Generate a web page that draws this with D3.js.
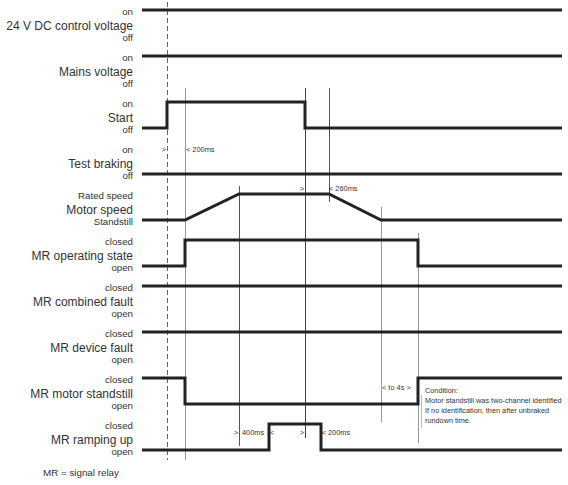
<!DOCTYPE html>
<html><head><meta charset="utf-8">
<script src="https://cdn.jsdelivr.net/npm/d3@7"></script>
<style>
body{margin:0;background:#fff;}
text{font-family:"Liberation Sans Narrow","Liberation Sans",Arial,sans-serif;fill:#333;}
</style></head>
<body><svg id="c" width="568" height="485"></svg>
<script>
// ---- data ----
const rowTitles = ["24 V DC control voltage","Mains voltage","Start","Test braking","Motor speed",
  "MR operating state","MR combined fault","MR device fault","MR motor standstill","MR ramping up"];
const topLabels = ["on","on","on","on","Rated speed","closed","closed","closed","closed","closed"];
const bottomLabels = ["off","off","off","off","Standstill","open","open","open","open","open"];
// time events (arbitrary time units)
const tEnd = 2100;
const sig24V = [[0,1],[tEnd,1]];
const sigMains = [[0,1],[tEnd,1]];
const sigStart = [[0,0],[125,0],[125,1],[815,1],[815,0],[tEnd,0]];
const sigTestBraking = [[0,0],[tEnd,0]];
const sigMotorSpeed = [[0,0],[215,0],[485,1],[935,1],[1195,0],[tEnd,0]];
const sigOperating = [[0,0],[215,0],[215,1],[1380,1],[1380,0],[tEnd,0]];
const sigCombinedFault = [[0,1],[tEnd,1]];
const sigDeviceFault = [[0,1],[tEnd,1]];
const sigStandstill = [[0,1],[215,1],[215,0],[1380,0],[1380,1],[tEnd,1]];
const sigRampingUp = [[0,0],[635,0],[635,1],[895,1],[895,0],[tEnd,0]];
const signals = [sig24V,sigMains,sigStart,sigTestBraking,sigMotorSpeed,sigOperating,
  sigCombinedFault,sigDeviceFault,sigStandstill,sigRampingUp];
const markerTimes = [125,215,485,815,935,1195,1380];
const annotations = [
  {t:125, text:">", anchor:"end", row:3, dx:-1},
  {t:215, text:"< 200ms", anchor:"start", row:3, dx:1},
  {t:815, text:">", anchor:"end", row:4, dx:-1},
  {t:935, text:"< 260ms", anchor:"start", row:4, dx:0},
  {t:1195, text:"< to 4s >", anchor:"start", row:8, dx:1},
  {t:485, text:">", anchor:"end", row:9, dx:-1},
  {t:485, text:"400ms", anchor:"start", row:9, dx:3},
  {t:635, text:"<", anchor:"start", row:9, dx:1},
  {t:815, text:">", anchor:"end", row:9, dx:-1},
  {t:895, text:"<", anchor:"start", row:9, dx:1},
  {t:895, text:"200ms", anchor:"start", row:9, dx:7}
];
const conditionLines = ["Condition:","Motor standstill was two-channel identified",
  "If no identification, then after unbraked","rundown time."];

// ---- scales ----
const svg = d3.select("#c");
const x = d3.scaleLinear().domain([0,tEnd]).range([142,562]);
const rowY = d3.scaleLinear().domain([0,9]).range([10,424]); // high level y
const amp = 26;
const yOf = (r,lv)=> rowY(r) + (1-lv)*amp;
const annOff = {3:4, 4:-3.5, 8:11.5, 9:11};

// ---- marker lines ----
const markers = [
  {t:markerTimes[0], y1:2, y2:460, c:"#666", dash:"5,3"},
  {t:markerTimes[1], y1:rowY(2)-14, y2:460, c:"#999"},
  {t:markerTimes[2], y1:rowY(4)-8, y2:446, c:"#555"},
  {t:markerTimes[3], y1:rowY(2)-14, y2:438, c:"#444"},
  {t:markerTimes[4], y1:rowY(2)-14, y2:202, c:"#555"},
  {t:markerTimes[5], y1:rowY(4)+13, y2:422, c:"#999"},
  {t:markerTimes[6], y1:rowY(5)-7, y2:443, c:"#999"}
];
svg.append("g").selectAll("line").data(markers).join("line")
  .attr("x1",d=>Math.round(x(d.t))+0.5).attr("x2",d=>Math.round(x(d.t))+0.5)
  .attr("y1",d=>d.y1).attr("y2",d=>d.y2)
  .attr("stroke",d=>d.c).attr("stroke-width",1)
  .attr("stroke-dasharray",d=>d.dash||null);

// ---- signals ----
const line = d3.line();
svg.append("g").selectAll("path").data(signals).join("path")
  .attr("d",(s,i)=>line(s.map(p=>[x(p[0]), yOf(i,p[1])])))
  .attr("fill","none").attr("stroke","#222").attr("stroke-width",3)
  .attr("stroke-linejoin","miter").attr("stroke-linecap","butt");

// ---- labels ----
const lx = 133;
const lab = svg.append("g").attr("text-anchor","end");
rowTitles.forEach((t,i)=>{
  lab.append("text").attr("x",lx).attr("y",rowY(i)+19.5).attr("font-size",12).text(t);
  lab.append("text").attr("x",lx).attr("y",rowY(i)+5).attr("font-size",9.7).text(topLabels[i]);
  lab.append("text").attr("x",lx).attr("y",rowY(i)+31).attr("font-size",9.7).text(bottomLabels[i]);
});

// ---- annotations ----
svg.append("g").selectAll("text").data(annotations).join("text")
  .attr("x",d=>x(d.t)+d.dx).attr("y",d=>rowY(d.row)+annOff[d.row])
  .attr("text-anchor",d=>d.anchor).attr("font-size",7.4).text(d=>d.text);

// condition box
const cx = x(1380)+7;
svg.append("line").attr("x1",cx-3.5).attr("x2",cx-3.5).attr("y1",395).attr("y2",428)
  .attr("stroke","#bbb").attr("stroke-width",1);
svg.append("g").selectAll("text").data(conditionLines).join("text")
  .attr("x",cx).attr("y",(d,i)=>393+i*10).attr("font-size",7.3).text(d=>d);

svg.append("text").attr("x",43).attr("y",476).attr("font-size",9.8).text("MR = signal relay");
</script></body></html>
